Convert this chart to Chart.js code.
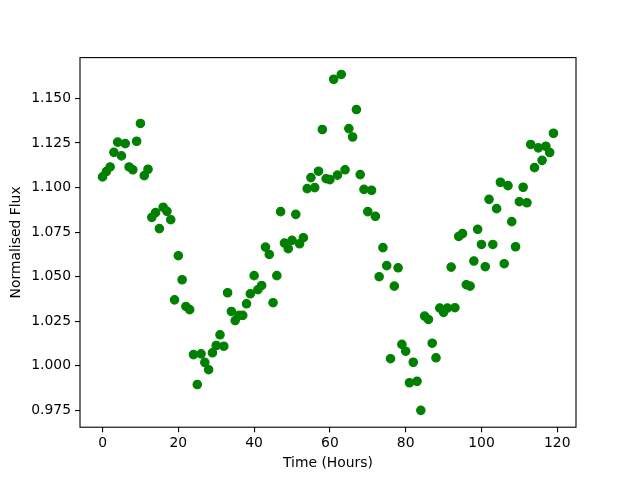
<!DOCTYPE html>
<html>
<head>
<meta charset="utf-8">
<script src="https://cdn.jsdelivr.net/npm/chart.js@4/dist/chart.umd.min.js"></script>
<style>
html,body{margin:0;padding:0;background:#ffffff;}
#c{display:block;}
</style>
</head>
<body>
<canvas id="c" width="640" height="480"></canvas>
<script>
const hours = [0,1,2,3,4,5,6,7,8,9,10,11,12,13,14,15,16,17,18,19,
  20,21,22,23,24,25,26,27,28,29,30,31,32,33,34,35,36,37,38,39,
  40,41,42,43,44,45,46,47,48,49,50,51,52,53,54,55,56,57,58,59,
  60,61,62,63,64,65,66,67,68,69,70,71,72,73,74,75,76,77,78,79,
  80,81,82,83,84,85,86,87,88,89,90,91,92,93,94,95,96,97,98,99,
  100,101,102,103,104,105,106,107,108,109,110,111,112,113,114,115,116,117,118,119];

const flux = [1.1060,1.1090,1.1116,1.1198,1.1255,1.1178,1.1247,1.1116,1.1100,1.1260,
  1.1360,1.1067,1.1103,1.0833,1.0860,1.0770,1.0890,1.0867,1.0820,1.0370,
  1.0618,1.0483,1.0333,1.0315,1.0063,0.9895,1.0067,1.0019,0.9978,1.0073,
  1.0114,1.0174,1.0110,1.0410,1.0305,1.0254,1.0283,1.0283,1.0348,1.0404,
  1.0506,1.0427,1.0451,1.0666,1.0625,1.0354,1.0506,1.0865,1.0689,1.0657,
  1.0704,1.0850,1.0685,1.0719,1.0994,1.1056,1.1000,1.1092,1.1326,1.1050,
  1.1045,1.1608,1.1070,1.1635,1.1100,1.1331,1.1284,1.1438,1.1073,1.0990,
  1.0865,1.0985,1.0839,1.0500,1.0663,1.0562,1.0040,1.0447,1.0550,1.0120,
  1.0082,0.9905,1.0020,0.9913,0.9750,1.0279,1.0260,1.0127,1.0045,1.0324,
  1.0300,1.0324,1.0554,1.0326,1.0726,1.0742,1.0455,1.0447,1.0588,1.0766,
  1.0681,1.0556,1.0934,1.0681,1.0882,1.1030,1.0573,1.1011,1.0809,1.0668,
  1.0921,1.1002,1.0915,1.1242,1.1112,1.1223,1.1153,1.1232,1.1197,1.1305];

const xTicks = [0,20,40,60,80,100,120];
const yTicks = [0.975,1.000,1.025,1.050,1.075,1.100,1.125,1.150];
const xLabel = 'Time (Hours)';
const yLabel = 'Normalised Flux';

const points = hours.map((h, i) => ({x: h, y: flux[i]}));

const FONT = {family: 'DejaVu Sans', size: 13.9};

const framePlugin = {
  id: 'frame',
  afterDatasetsDraw(chart) {
    const a = chart.chartArea;
    const ctx = chart.ctx;
    ctx.save();
    ctx.strokeStyle = '#000000';
    ctx.lineWidth = 1.1;
    ctx.strokeRect(a.left, a.top, a.right - a.left, a.bottom - a.top);
    ctx.restore();
  }
};

new Chart(document.getElementById('c'), {
  type: 'scatter',
  data: {
    datasets: [{
      data: points,
      backgroundColor: '#008000',
      borderColor: '#008000',
      pointRadius: 4.2,
      pointBorderWidth: 1.2,
      pointHoverRadius: 4.2
    }]
  },
  options: {
    responsive: false,
    animation: false,
    devicePixelRatio: 1,
    layout: {padding: {top: 57.6, right: 64, left: 0, bottom: 0}},
    plugins: {legend: {display: false}, tooltip: {enabled: false}},
    scales: {
      x: {
        type: 'linear',
        min: -5.95,
        max: 124.95,
        afterBuildTicks: s => { s.ticks = xTicks.map(v => ({value: v})); },
        afterFit: s => { s.height = 52.8; },
        grid: {drawOnChartArea: false, drawTicks: true, tickLength: 5, color: '#000000', lineWidth: 1.1},
        border: {display: false},
        ticks: {color: '#000000', font: FONT, padding: 3, maxRotation: 0, autoSkip: false,
          callback: v => String(v)},
        title: {display: true, text: xLabel, color: '#000000', font: FONT, padding: {top: 0, bottom: 8.5}}
      },
      y: {
        type: 'linear',
        min: 0.96555,
        max: 1.17295,
        afterBuildTicks: s => { s.ticks = yTicks.map(v => ({value: v})); },
        afterFit: s => { s.width = 80; },
        grid: {drawOnChartArea: false, drawTicks: true, tickLength: 5, color: '#000000', lineWidth: 1.1},
        border: {display: false},
        ticks: {color: '#000000', font: FONT, padding: 4, autoSkip: false,
          callback: v => Number(v).toFixed(3)},
        title: {display: true, text: yLabel, color: '#000000', font: FONT, padding: {top: 8.5, bottom: 0}}
      }
    }
  },
  plugins: [framePlugin]
});
</script>
</body>
</html>
